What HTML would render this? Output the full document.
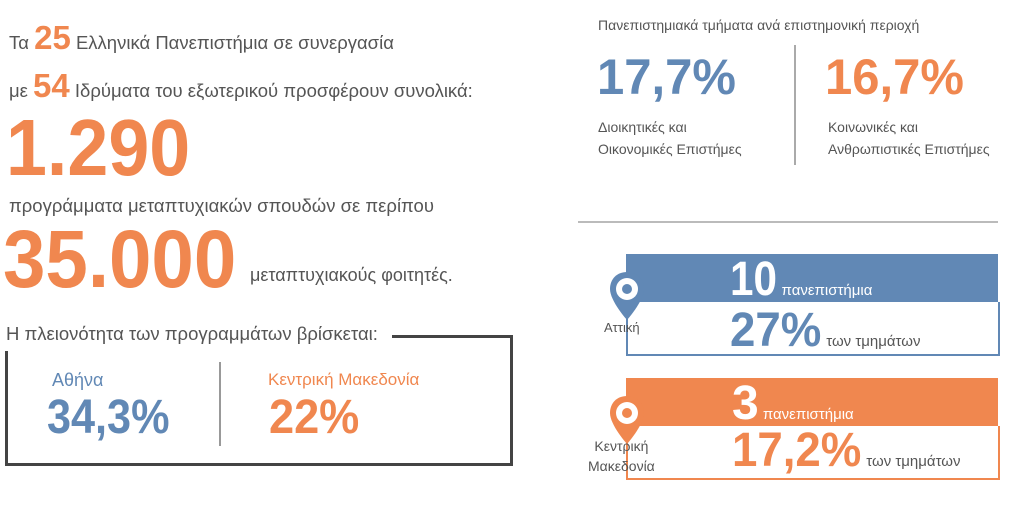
<!DOCTYPE html>
<html><head><meta charset="utf-8"><style>
body{margin:0;width:1024px;height:514px;background:#fff;position:relative;overflow:hidden;font-family:"Liberation Sans","DejaVu Sans",sans-serif;color:#555}
.a{position:absolute;white-space:nowrap}
.n{font-family:"Liberation Sans Narrow","Liberation Sans",sans-serif;font-weight:bold}
.o{color:#f0874f}.b{color:#6188b5}
.s{transform-origin:0 0}
</style></head><body>
<div class="a" style="left:9px;top:19px;font-size:18.5px">Τα <span class="n o" style="font-size:33px">25</span> Ελληνικά Πανεπιστήμια σε συνεργασία</div>
<div class="a" style="left:9px;top:67px;font-size:18.5px">με <span class="n o" style="font-size:33px">54</span> Ιδρύματα του εξωτερικού προσφέρουν συνολικά:</div>
<div class="a n o s" style="left:6px;top:103px;font-size:80px;line-height:90px;transform:scaleX(0.92)">1.290</div>
<div class="a" style="left:9px;top:195px;font-size:18.5px">προγράμματα μεταπτυχιακών σπουδών σε περίπου</div>
<div class="a n o s" style="left:3px;top:215px;font-size:82px;line-height:90px;transform:scaleX(0.93)">35.000</div>
<div class="a" style="left:250px;top:265px;font-size:18px">μεταπτυχιακούς φοιτητές.</div>

<div class="a" style="left:6px;top:323px;font-size:18.5px">Η πλειονότητα των προγραμμάτων βρίσκεται:</div>
<div class="a" style="left:392px;top:335px;width:118px;height:128px;border-top:3px solid #444;border-right:3px solid #444"></div>
<div class="a" style="left:5px;top:351px;width:3px;height:115px;background:#444"></div>
<div class="a" style="left:5px;top:463px;width:508px;height:3px;background:#444"></div>
<div class="a" style="left:219px;top:362px;width:2px;height:84px;background:#999"></div>
<div class="a b" style="left:52px;top:370px;font-size:18px">Αθήνα</div>
<div class="a n b s" style="left:47px;top:393px;font-size:48px;line-height:50px;transform:scaleX(0.9)">34,3%</div>
<div class="a o" style="left:268px;top:370px;font-size:17px">Κεντρική Μακεδονία</div>
<div class="a n o s" style="left:269px;top:393px;font-size:48px;line-height:50px;transform:scaleX(0.94)">22%</div>

<div class="a" style="left:598px;top:17px;font-size:14px">Πανεπιστημιακά τμήματα ανά επιστημονική περιοχή</div>
<div class="a n b s" style="left:597px;top:50px;font-size:50px;line-height:54px;transform:scaleX(0.98)">17,7%</div>
<div class="a" style="left:598px;top:116px;font-size:14px;line-height:22px">Διοικητικές και<br>Οικονομικές Επιστήμες</div>
<div class="a" style="left:794px;top:45px;width:2px;height:120px;background:#aaa"></div>
<div class="a n o s" style="left:825px;top:50px;font-size:50px;line-height:54px;transform:scaleX(0.98)">16,7%</div>
<div class="a" style="left:828px;top:116px;font-size:14px;line-height:22px">Κοινωνικές και<br>Ανθρωπιστικές Επιστήμες</div>
<div class="a" style="left:578px;top:221px;width:420px;height:2px;background:#bbb"></div>

<div class="a" style="left:626px;top:254px;width:372px;height:48px;background:#6188b5"></div>
<div class="a" style="left:626px;top:302px;width:370px;height:52px;border:2px solid #6188b5;border-top:none"></div>
<div class="a n" style="left:730px;top:255px;font-size:48px;line-height:50px;color:#fff"><span class="s" style="display:inline-block;transform:scaleX(0.88)">10</span><span style="font-family:'Liberation Sans',sans-serif;font-weight:normal;font-size:15px;margin-left:-6px"> πανεπιστήμια</span></div>
<div class="a n b" style="left:730px;top:306px;font-size:48px;line-height:50px"><span class="s" style="display:inline-block;transform:scaleX(0.95)">27%</span><span style="font-family:'Liberation Sans',sans-serif;font-weight:normal;font-size:15px;color:#555;margin-left:-4px"> των τμημάτων</span></div>
<svg class="a" style="left:608px;top:270px" width="38" height="52" viewBox="0 0 38 52"><path d="M19 2C9 2 2 9 2 19c0 12 17 31 17 31s17-19 17-31C36 9 29 2 19 2z" fill="#6188b5"/><circle cx="19" cy="19" r="11" fill="#fff"/><circle cx="19" cy="19" r="5" fill="#6188b5"/></svg>
<div class="a" style="left:604px;top:320px;font-size:13px">Αττική</div>

<div class="a" style="left:626px;top:378px;width:372px;height:48px;background:#f0874f"></div>
<div class="a" style="left:626px;top:426px;width:370px;height:52px;border:2px solid #f0874f;border-top:none"></div>
<div class="a n" style="left:732px;top:379px;font-size:48px;line-height:50px;color:#fff">3<span style="font-family:'Liberation Sans',sans-serif;font-weight:normal;font-size:15px"> πανεπιστήμια</span></div>
<div class="a n o" style="left:732px;top:426px;font-size:48px;line-height:50px"><span class="s" style="display:inline-block;transform:scaleX(0.95)">17,2%</span><span style="font-family:'Liberation Sans',sans-serif;font-weight:normal;font-size:15px;color:#555;margin-left:-6px"> των τμημάτων</span></div>
<svg class="a" style="left:608px;top:394px" width="38" height="52" viewBox="0 0 38 52"><path d="M19 2C9 2 2 9 2 19c0 12 17 31 17 31s17-19 17-31C36 9 29 2 19 2z" fill="#f0874f"/><circle cx="19" cy="19" r="11" fill="#fff"/><circle cx="19" cy="19" r="5" fill="#f0874f"/></svg>
<div class="a" style="left:588px;top:436px;font-size:14px;line-height:20px;text-align:center">Κεντρική<br>Μακεδονία</div>
</body></html>
